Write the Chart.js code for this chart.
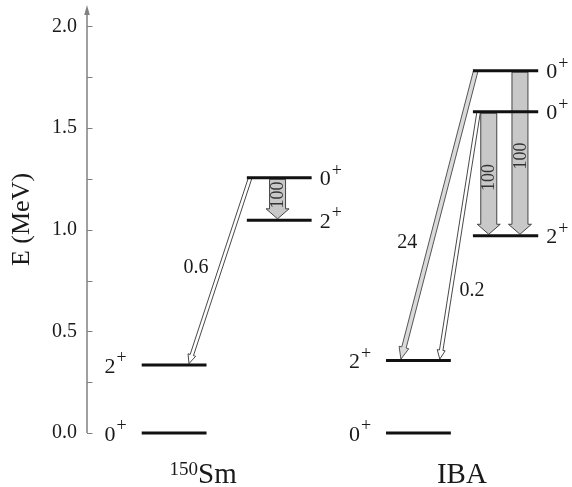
<!DOCTYPE html>
<html>
<head>
<meta charset="utf-8">
<script src="https://cdn.jsdelivr.net/npm/chart.js@4"></script>
<style>
html, body { margin: 0; padding: 0; background: #fff; }
</style>
</head>
<body>
<canvas id="myChart" width="572" height="487"></canvas>
<script>
// levels: energy (MeV), spin label, horizontal extent in column units (0..100)
const level_energy = [0.0, 0.334, 1.046, 1.255, 0.0, 0.356, 0.970, 1.580, 1.782];
const level_spin   = ['0', '2', '2', '0', '0', '2', '2', '0', '0'];
const level_x0     = [11.4, 11.4, 33.3, 33.3, 62.3, 62.3, 80.4, 80.4, 80.4];
const level_x1     = [24.9, 24.9, 46.8, 46.8, 75.8, 75.8, 94.0, 94.0, 94.0];
const label_side   = ['left', 'left', 'right', 'right', 'left', 'left', 'right', 'right', 'right'];

// transitions: from level -> to level, x at start / end, intensity, drawing kind
const trans_from = [3, 3, 8, 7, 7, 8];
const trans_to   = [1, 2, 5, 5, 6, 6];
const trans_x0   = [34.0, 39.7, 81.0, 81.6, 83.7, 90.2];
const trans_x1   = [21.25, 39.7, 65.4, 73.5, 83.7, 90.2];
const trans_int  = ['0.6', '100', '24', '0.2', '100', '100'];
const trans_kind = ['thin', 'wide', 'mid', 'thin', 'wide', 'wide'];
const int_label_x = [22.7, 39.7, 66.7, 80.2, 83.7, 90.2];
const int_label_e = [0.812, 1.171, 0.935, 0.698, 1.257, 1.362];

const nucleus_mass = ['150', ''];
const nucleus_name = ['Sm', 'IBA'];
const nucleus_x    = [24.2, 78.1];

const y_ticks = [0, 0.5, 1.0, 1.5, 2.0];
const y_minor = [0.25, 0.75, 1.25, 1.75];

const SERIF = "'Liberation Serif', 'Times New Roman', Times, serif";

const arrow_style = {
    thin: { w: 3.5, hw: 8, hl: 9, fill: '#ffffff', stroke: '#333333' },
    mid:  { w: 4.5, hw: 10, hl: 12, fill: '#dadada', stroke: '#444444' },
    wide: { w: 16, hw: 23, hl: 10, fill: '#c8c8c8', stroke: '#333333' }
};

function draw_arrow(ctx, x0, y0, x1, y1, st) {
    const dx = x1 - x0, dy = y1 - y0;
    const len = Math.sqrt(dx*dx + dy*dy);
    const ux = dx/len, uy = dy/len;
    const nx = -uy, ny = ux;
    const bx = x1 - ux*st.hl, by = y1 - uy*st.hl;
    ctx.beginPath();
    ctx.moveTo(x0 + nx*st.w/2, y0 + ny*st.w/2);
    ctx.lineTo(bx + nx*st.w/2, by + ny*st.w/2);
    ctx.lineTo(bx + nx*st.hw/2, by + ny*st.hw/2);
    ctx.lineTo(x1, y1);
    ctx.lineTo(bx - nx*st.hw/2, by - ny*st.hw/2);
    ctx.lineTo(bx - nx*st.w/2, by - ny*st.w/2);
    ctx.lineTo(x0 - nx*st.w/2, y0 - ny*st.w/2);
    ctx.closePath();
    ctx.fillStyle = st.fill;
    ctx.fill();
    ctx.strokeStyle = st.stroke;
    ctx.lineWidth = 0.9;
    ctx.stroke();
}

function draw_spin(ctx, spin, x, y, side) {
    ctx.font = '22px ' + SERIF;
    const w1 = ctx.measureText(spin).width;
    ctx.font = '18px ' + SERIF;
    const w2 = ctx.measureText('+').width;
    let sx = side == 'left' ? x - 15 - (w1 + 1 + w2) : x + 8;
    ctx.fillStyle = '#1a1a1a';
    ctx.textAlign = 'left';
    ctx.textBaseline = 'alphabetic';
    ctx.font = '22px ' + SERIF;
    ctx.fillText(spin, sx, y + 7.5);
    ctx.font = '18px ' + SERIF;
    ctx.fillText('+', sx + w1 + 1, y - 2);
}

const arrowsPlugin = {
    id: 'arrows',
    beforeDatasetsDraw(chart) {
        const ctx = chart.ctx;
        const xs = chart.scales.x, ys = chart.scales.y;
        ctx.save();
        for (let i = 0; i < trans_from.length; i++) {
            const st = arrow_style[trans_kind[i]];
            const y0 = ys.getPixelForValue(level_energy[trans_from[i]]) + (trans_kind[i] == 'wide' ? 1.5 : 0);
            const y1 = ys.getPixelForValue(level_energy[trans_to[i]]) - 1.5;
            draw_arrow(ctx, xs.getPixelForValue(trans_x0[i]), y0, xs.getPixelForValue(trans_x1[i]), y1, st);
        }
        ctx.restore();
    }
};

const labelsPlugin = {
    id: 'labels',
    afterDraw(chart) {
        const ctx = chart.ctx;
        const xs = chart.scales.x, ys = chart.scales.y;
        const area = chart.chartArea;
        ctx.save();

        // energy axis with inward ticks and arrow head
        const ax = area.left;
        ctx.strokeStyle = '#808080';
        ctx.fillStyle = '#808080';
        ctx.lineWidth = 1.5;
        ctx.beginPath();
        ctx.moveTo(ax, ys.getPixelForValue(0));
        ctx.lineTo(ax, area.top + 4);
        ctx.stroke();
        ctx.beginPath();
        ctx.moveTo(ax, area.top - 1);
        ctx.lineTo(ax - 2.8, area.top + 9);
        ctx.lineTo(ax + 2.8, area.top + 9);
        ctx.closePath();
        ctx.fill();
        ctx.lineWidth = 1;
        y_ticks.concat(y_minor).forEach(v => {
            const py = Math.round(ys.getPixelForValue(v)) + 0.5;
            ctx.beginPath();
            ctx.moveTo(ax, py);
            ctx.lineTo(ax + 5.5, py);
            ctx.stroke();
        });

        // spin labels
        for (let i = 0; i < level_energy.length; i++) {
            const py = ys.getPixelForValue(level_energy[i]);
            const px = label_side[i] == 'left' ? xs.getPixelForValue(level_x0[i]) : xs.getPixelForValue(level_x1[i]);
            draw_spin(ctx, level_spin[i], px, py, label_side[i]);
        }

        // intensities
        ctx.fillStyle = '#1a1a1a';
        ctx.textAlign = 'center';
        ctx.textBaseline = 'middle';
        for (let i = 0; i < trans_int.length; i++) {
            const px = xs.getPixelForValue(int_label_x[i]);
            const py = ys.getPixelForValue(int_label_e[i]);
            if (trans_kind[i] == 'wide') {
                ctx.save();
                ctx.translate(px, py);
                ctx.rotate(-Math.PI/2);
                ctx.font = '18px ' + SERIF;
                ctx.fillStyle = '#333333';
                ctx.fillText(trans_int[i], 0, 1);
                ctx.restore();
            } else {
                ctx.font = '20px ' + SERIF;
                ctx.fillText(trans_int[i], px, py);
            }
        }

        // nucleus names under each scheme
        ctx.textBaseline = 'alphabetic';
        ctx.textAlign = 'left';
        const base = area.bottom + 50;
        for (let i = 0; i < nucleus_name.length; i++) {
            ctx.font = '19px ' + SERIF;
            const wm = ctx.measureText(nucleus_mass[i]).width;
            ctx.font = '29px ' + SERIF;
            const wn = ctx.measureText(nucleus_name[i]).width;
            const sx = xs.getPixelForValue(nucleus_x[i]) - (wm + wn)/2;
            ctx.font = '19px ' + SERIF;
            ctx.fillText(nucleus_mass[i], sx, base - 8);
            ctx.font = '29px ' + SERIF;
            ctx.fillText(nucleus_name[i], sx + wm, base);
        }
        ctx.restore();
    }
};

const level_datasets = level_energy.map((e, i) => ({
    data: [{x: level_x0[i], y: e}, {x: level_x1[i], y: e}],
    borderColor: '#111111',
    borderWidth: 3,
    pointRadius: 0,
    borderCapStyle: 'butt',
    clip: false
}));

const ctx = document.getElementById('myChart').getContext('2d');
const myChart = new Chart(ctx, {
    type: 'line',
    data: { datasets: level_datasets },
    options: {
        responsive: false,
        animation: false,
        layout: { padding: { top: 6, bottom: 54, left: 0, right: 5 } },
        plugins: { legend: { display: false }, tooltip: { enabled: false } },
        scales: {
            x: { type: 'linear', min: 0, max: 100, display: false },
            y: {
                type: 'linear',
                min: 0,
                max: 2.1,
                afterBuildTicks: scale => { scale.ticks = y_ticks.map(v => ({ value: v })); },
                afterFit: scale => {
                    scale.width = 87;
                    scale.paddingTop = 0;
                    scale.paddingBottom = 0;
                },
                grid: { display: false, drawTicks: false },
                border: { display: false },
                ticks: {
                    padding: 10,
                    color: '#1a1a1a',
                    font: { family: SERIF, size: 20 },
                    callback: v => v.toFixed(1)
                },
                title: {
                    display: true,
                    text: 'E (MeV)',
                    color: '#1a1a1a',
                    font: { family: SERIF, size: 26 },
                    padding: { top: 7, bottom: 0 }
                }
            }
        }
    },
    plugins: [arrowsPlugin, labelsPlugin]
});
</script>
</body>
</html>
